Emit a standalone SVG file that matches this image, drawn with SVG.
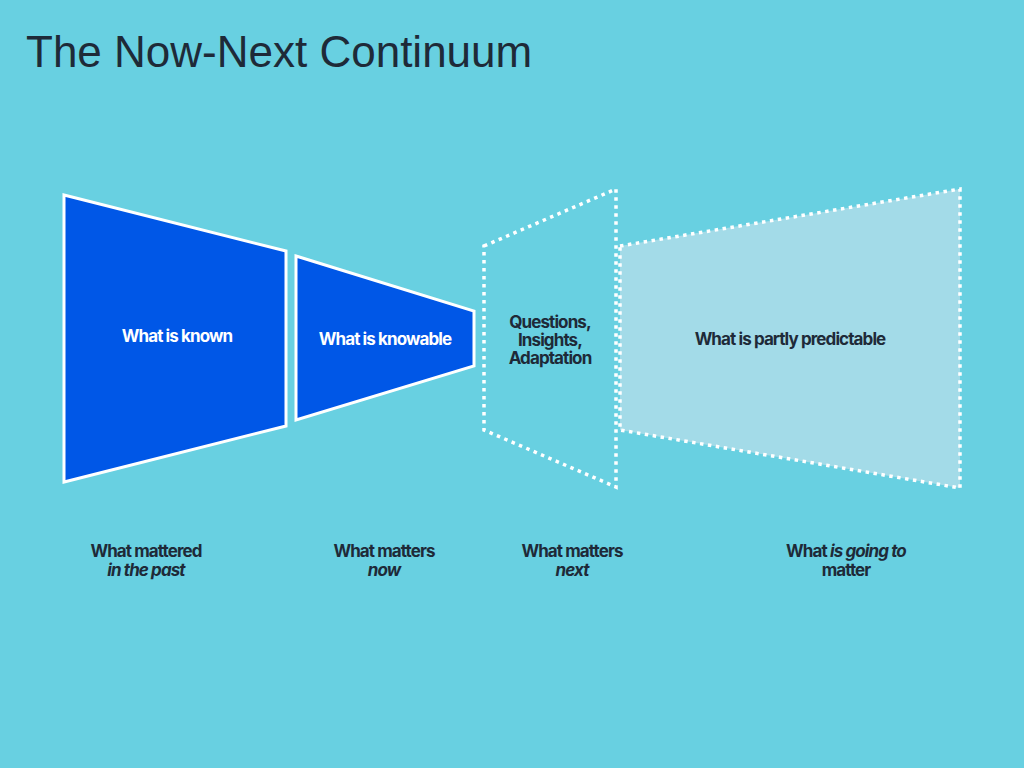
<svg xmlns="http://www.w3.org/2000/svg" width="1024" height="768" viewBox="0 0 1024 768">
<style>
.t{font-family:Inter,"Liberation Sans",sans-serif;font-weight:700;font-size:17px;letter-spacing:-0.9px;text-anchor:middle;fill:#1e2a38}
.w{fill:#ffffff}
.i{font-style:italic}
.solid{fill:#0057e7;stroke:#ffffff;stroke-width:3}
.dot{stroke:#ffffff;stroke-width:3.5;stroke-dasharray:3.5 4.5}
</style>
<rect width="1024" height="768" fill="#68d0e1"/>
<text x="26" y="67" font-family="'Liberation Sans',Arial,sans-serif" font-size="44" fill="#1e2a38">The Now-Next Continuum</text>
<g id="known"><polygon class="solid" points="64,195 286,251 286,426 64,482"/><text class="t w" x="177" y="342">What is known</text></g>
<g id="knowable"><polygon class="solid" points="296,256 474,311 474,366 296,420"/><text class="t w" x="385" y="345">What is knowable</text></g>
<g id="questions"><polygon class="dot" fill="none" points="484,246 616,189 616,487 484,430"/><text class="t" x="550" y="328">Questions,</text><text class="t" x="550" y="346">Insights,</text><text class="t" x="550" y="364">Adaptation</text></g>
<g id="partly"><polygon class="dot" fill="#a3dbe8" points="620,246 960,189 960,488 620,430"/><text class="t" x="790" y="345">What is partly predictable</text></g>
<g id="labels">
<text class="t" x="146" y="557">What mattered</text><text class="t i" x="146" y="576">in the past</text>
<text class="t" x="384" y="557">What matters</text><text class="t i" x="384" y="576">now</text>
<text class="t" x="572" y="557">What matters</text><text class="t i" x="572" y="576">next</text>
<text class="t" x="846" y="557">What <tspan class="i">is going to</tspan></text><text class="t" x="846" y="576">matter</text>
</g>
<g id="connectors"/>
</svg>
